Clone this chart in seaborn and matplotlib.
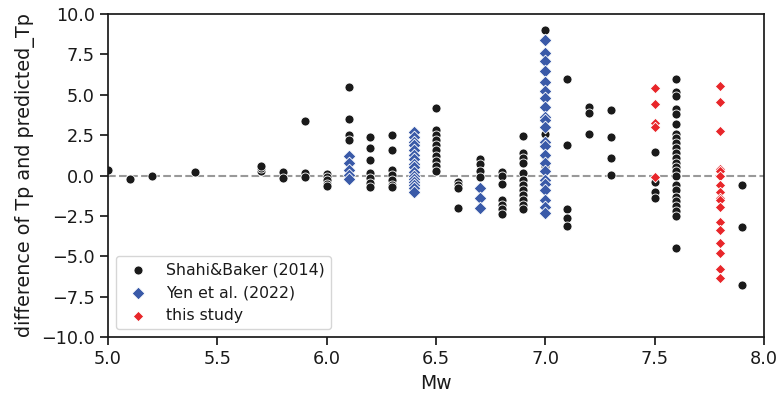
import numpy as np
import pandas as pd
import matplotlib
matplotlib.use("Agg")
import matplotlib.pyplot as plt
import seaborn as sns

# Shahi & Baker (2014)
shahi_mw = ([5.0, 5.1, 5.2, 5.4] + [5.7]*3 + [5.8]*2 + [5.9]*3 + [6.0]*5 +
            [6.1]*5 + [6.2]*7 + [6.3]*7 + [6.5]*10 + [6.6]*4 + [6.7]*4 +
            [6.8]*7 + [6.9]*12 + [7.0]*4 + [7.1]*5 + [7.2]*3 + [7.3]*4 +
            [7.5]*4 + [7.6]*24 + [7.9]*3)
shahi_diff = ([0.35, -0.2, -0.05, 0.2] + [0.3, 0.45, 0.6] + [0.2, -0.15] +
              [3.35, 0.15, -0.1] + [0.1, -0.1, -0.3, -0.5, -0.65] +
              [5.5, 3.5, 2.5, 2.2, 0.8] +
              [2.4, 1.7, 0.95, 0.15, -0.15, -0.45, -0.7] +
              [2.5, 1.6, 0.35, 0.03, -0.3, -0.6, -0.7] +
              [4.2, 2.8, 2.5, 2.2, 1.9, 1.6, 1.2, 0.9, 0.6, 0.3] +
              [-0.4, -0.6, -0.8, -2.0] +
              [1.0, 0.7, 0.3, -0.1] +
              [0.2, 0.0, -0.5, -1.5, -1.8, -2.1, -2.4] +
              [2.45, 1.4, 1.1, 0.8, 0.15, -0.3, -0.6, -0.9, -1.2, -1.5, -1.8, -2.1] +
              [9.0, 2.6, 1.2, 0.6] +
              [6.0, 1.9, -2.05, -2.6, -3.15] +
              [4.25, 3.9, 2.55] +
              [4.05, 2.4, 1.1, 0.03] +
              [1.45, -0.4, -1.0, -1.4] +
              [6.0, 5.2, 4.9, 4.1, 3.8, 3.2, 2.6, 2.3, 2.0, 1.7, 1.4, 1.1, 0.8,
               0.5, 0.3, 0.0, -0.6, -0.9, -1.3, -1.6, -1.9, -2.2, -2.5, -4.5] +
              [-0.6, -3.2, -6.8])

# Yen et al. (2022)
yen_mw = [6.1]*5 + [6.4]*16 + [6.7]*3 + [7.0]*22
yen_diff = ([1.2, 0.8, 0.35, 0.05, -0.2] +
            [2.7, 2.4, 2.1, 1.9, 1.6, 1.3, 1.0, 0.7, 0.5, 0.2, 0.0, -0.2,
             -0.4, -0.6, -0.8, -1.0] +
            [-0.8, -1.4, -2.0] +
            [8.4, 7.6, 7.1, 6.5, 5.8, 5.25, 4.8, 4.25, 3.65, 3.45, 3.0, 2.1,
             1.8, 1.25, 0.75, 0.25, -0.3, -0.5, -0.9, -1.5, -1.95, -2.35])

# this study
this_mw = [7.5]*5 + [7.8]*17
this_diff = ([5.4, 4.45, 3.25, 3.0, -0.1] +
             [5.55, 4.55, 2.75, 0.4, 0.25, -0.05, -0.6, -1.0, -1.4, -1.5,
              -1.95, -2.85, -3.35, -4.15, -4.8, -5.8, -6.35])

sns.set_theme(style="ticks", context="notebook")
plt.rcParams['font.family'] = ['DejaVu Sans']
plt.rcParams['text.color'] = '#1a1a1a'
plt.rcParams['axes.labelcolor'] = '#1a1a1a'
plt.rcParams['xtick.color'] = '#1a1a1a'
plt.rcParams['ytick.color'] = '#1a1a1a'
plt.rcParams['axes.edgecolor'] = '#1a1a1a'

fig = plt.figure(figsize=(7.79, 3.97), dpi=100)
ax = fig.add_axes([0.1386, 0.1511, 0.8421, 0.8136])

ax.axhline(0, color="#999999", linestyle="--", linewidth=1.5, zorder=0)

sns.scatterplot(x=shahi_mw, y=shahi_diff, color="#1a1a1a", marker="o", s=42,
                edgecolor="white", linewidth=0.6, label="Shahi&Baker (2014)", ax=ax)
sns.scatterplot(x=yen_mw, y=yen_diff, color="#3a5aa8", marker="D", s=42,
                edgecolor="white", linewidth=0.6, label="Yen et al. (2022)", ax=ax)
sns.scatterplot(x=this_mw, y=this_diff, color="#e8262a", marker="D", s=28,
                edgecolor="white", linewidth=0.6, label="this study", ax=ax)

ax.set_xlim(5.0, 8.0)
ax.set_ylim(-10, 10)
ax.set_xticks([5.0, 5.5, 6.0, 6.5, 7.0, 7.5, 8.0])
ax.set_yticks([-10, -7.5, -5, -2.5, 0, 2.5, 5, 7.5, 10])
ax.tick_params(labelsize=12.7)
ax.set_xlabel("Mw", fontsize=13.5)
ax.set_ylabel("difference of Tp and predicted_Tp", fontsize=13.8)
ax.legend(loc="lower left", frameon=True, fontsize=11.3)

fig.savefig("out.png", dpi=100)
